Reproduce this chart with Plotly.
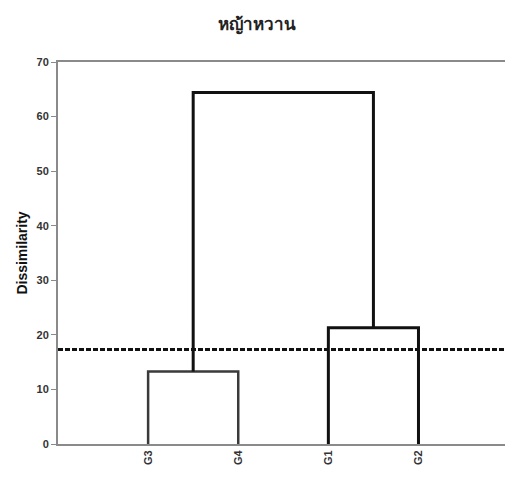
import plotly.graph_objects as go

leaves = ["G3", "G4", "G1", "G2"]
leaf_pos = [1, 2, 3, 4]
h_g3g4 = 13.3
h_g1g2 = 21.3
h_top = 64.4
cutoff = 17.3
y_ticks = [0, 10, 20, 30, 40, 50, 60, 70]

fig = go.Figure()
mid_a = (leaf_pos[0] + leaf_pos[1]) / 2
mid_b = (leaf_pos[2] + leaf_pos[3]) / 2

fig.add_trace(go.Scatter(x=[leaf_pos[0], leaf_pos[0], leaf_pos[1], leaf_pos[1]],
                         y=[0, h_g3g4, h_g3g4, 0], mode="lines",
                         line=dict(color="#3a3a3a", width=2.5), hoverinfo="skip"))
fig.add_trace(go.Scatter(x=[leaf_pos[2], leaf_pos[2], leaf_pos[3], leaf_pos[3]],
                         y=[0, h_g1g2, h_g1g2, 0], mode="lines",
                         line=dict(color="#111111", width=3), hoverinfo="skip"))
fig.add_trace(go.Scatter(x=[mid_a, mid_a, mid_b, mid_b],
                         y=[h_g3g4, h_top, h_top, h_g1g2], mode="lines",
                         line=dict(color="#111111", width=3), hoverinfo="skip"))
fig.add_trace(go.Scatter(x=[0, 5], y=[cutoff, cutoff], mode="lines",
                         line=dict(color="#111111", width=3, dash="5px,2px"), hoverinfo="skip"))

fig.update_layout(
    width=505, height=479,
    margin=dict(l=58, r=0, t=62, b=35),
    paper_bgcolor="white", plot_bgcolor="white",
    showlegend=False,
    title=dict(text="<b>หญ้าหวาน</b>", x=0.508, xanchor="center", y=0.95, yanchor="middle",
               font=dict(size=17, color="#222", family="Noto Sans, Liberation Sans, sans-serif")),
    font=dict(family="Liberation Sans, Arial, sans-serif", color="#333"),
)
fig.update_xaxes(range=[0, 4.96], tickvals=leaf_pos, ticktext=[f"<b>{l}</b>" for l in leaves],
                 tickangle=-90, showgrid=False, zeroline=False, showline=True,
                 linecolor="#8a8a8a", linewidth=2, mirror=True, ticks="",
                 tickfont=dict(size=11, color="#333"))
fig.update_yaxes(range=[0, 70], tickvals=y_ticks, ticktext=[f"<b>{v}</b>" for v in y_ticks],
                 showgrid=False, zeroline=False, showline=True, linecolor="#8a8a8a", linewidth=2,
                 ticks="outside", ticklen=5, tickcolor="#8a8a8a", tickwidth=1,
                 tickfont=dict(size=11, color="#333"),
                 title=dict(text="<b>Dissimilarity</b>", font=dict(size=14, color="#111"), standoff=6))

fig.write_html("out.html", config={"displayModeBar": False},
               post_script="document.body.style.margin='0';document.body.style.overflow='hidden';")
